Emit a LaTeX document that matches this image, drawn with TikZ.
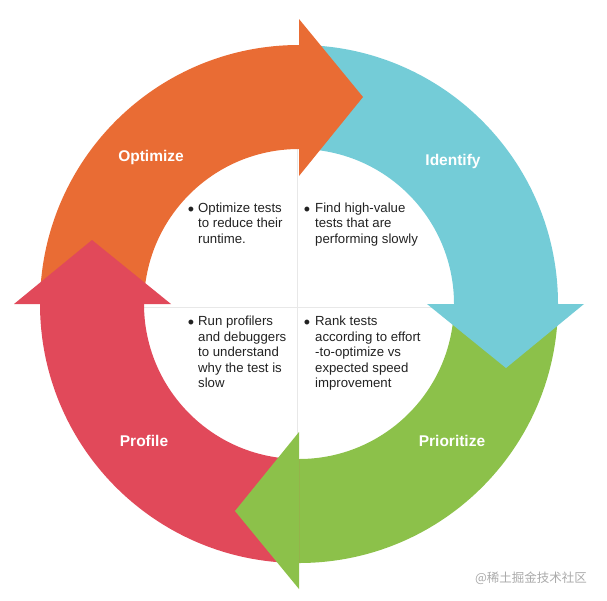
\documentclass[tikz,border=0pt]{standalone}
\usepackage{fontspec}
\setmainfont{Liberation Sans}
\newfontfamily\cjkfont{Noto Sans CJK SC}
\usetikzlibrary{calc}
\definecolor{cOrange}{RGB}{233,108,52}
\definecolor{cTeal}{RGB}{116,204,215}
\definecolor{cGreen}{RGB}{140,193,74}
\definecolor{cRed}{RGB}{225,73,90}
\definecolor{cText}{RGB}{34,34,34}
\definecolor{cDiv}{RGB}{232,232,232}
\definecolor{cMark}{RGB}{170,170,170}
\begin{document}
\begin{tikzpicture}[x=1pt,y=-1pt,
  steplabel/.style={text=white,font=\fontsize{15.5}{18}\selectfont\bfseries,inner sep=0},
  bodytext/.style={text=cText,font=\fontsize{13.2}{15.5}\selectfont,align=left,anchor=base west,inner sep=0},
  bul/.style={text=cText,font=\fontsize{18}{20}\selectfont,inner sep=0,anchor=base},
  divider/.style={draw=cDiv,line width=0.8pt}]
\useasboundingbox (0,0) rectangle (607,600);
\coordinate (c) at (299,304);
% quadrant dividers
\draw[divider] (297,149) -- (297,459);
\draw[divider] (143,307) -- (455,307);
% ring bodies
\foreach \a/\col in {180/cOrange,270/cTeal,0/cGreen,90/cRed}{
  \pgfmathsetmacro\b{\a+90}
  \fill[\col] ($(c)+(\a:155)$) arc[start angle=\a, end angle=\b, radius=155]
     -- ($(c)+(\b:259)$) arc[start angle=\b, end angle=\a, radius=259] -- cycle;
}
% arrow heads
\foreach \a/\col in {270/cOrange,360/cTeal,90/cGreen,180/cRed}{
  \pgfmathsetmacro\t{\a+90}
  \fill[\col] ($(c)+(\a:128)$) -- ($(c)+(\a:285)$) -- ($(c)+(\a:207)+(\t:64)$) -- cycle;
}
% step labels
\node[steplabel] (optimize) at (151,157) {Optimize};
\node[steplabel] (identify) at (453,161) {Identify};
\node[steplabel] (prioritize) at (452,441) {Prioritize};
\node[steplabel] (profile) at (144,441) {Profile};
% bullets and texts (base anchor = baseline of last line)
\node[bul] (b1) at (191,215) {•};
\node[bodytext] (t1) at (198,243.3) {Optimize tests\\to reduce their\\runtime.};
\node[bul] (b2) at (307,215) {•};
\node[bodytext] (t2) at (315,243.3) {Find high-value\\tests that are\\performing slowly};
\node[bul] (b3) at (191,328.5) {•};
\node[bodytext] (t3) at (198,387.7) {Run profilers\\and debuggers\\to understand\\why the test is\\slow};
\node[bul] (b4) at (307,328.5) {•};
\node[bodytext] (t4) at (315,387.7) {Rank tests\\according to effort\\-to-optimize vs\\expected speed\\improvement};
% watermark
\node[text=cMark,font=\cjkfont\fontsize{12.5}{15}\selectfont,inner sep=0] (wm) at (531,578) {@稀土掘金技术社区};
\end{tikzpicture}
\end{document}
